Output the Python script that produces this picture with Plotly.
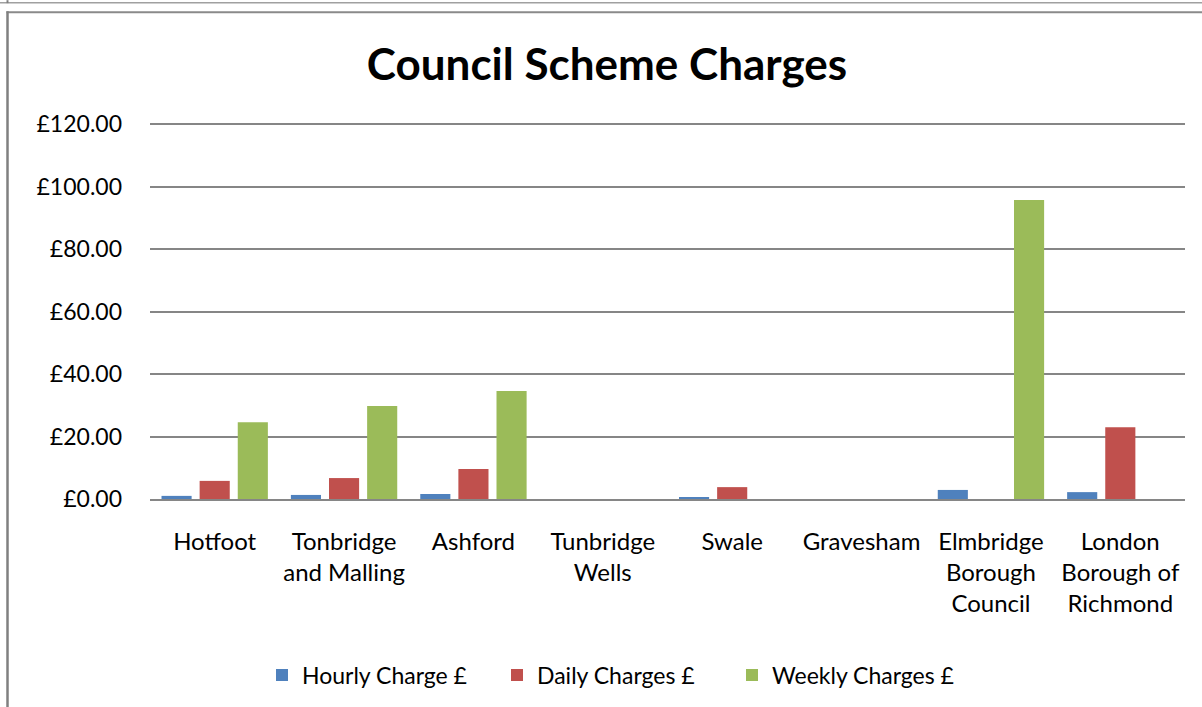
import plotly.graph_objects as go

categories = ["Hotfoot", "Tonbridge<br>and Malling", "Ashford", "Tunbridge<br>Wells", "Swale",
              "Gravesham", "Elmbridge<br>Borough<br>Council", "London<br>Borough of<br>Richmond"]
hourly = [1.00, 1.30, 1.60, None, 0.60, None, 2.90, 2.20]
daily = [5.80, 6.70, 9.60, None, 3.80, None, None, 23.00]
weekly = [24.60, 29.80, 34.60, None, None, None, 95.70, None]
series_names = ["Hourly Charge £", "Daily Charges £", "Weekly Charges £"]
colors = ["#4F81BD", "#C0504D", "#9BBB59"]
y_ticks = [0, 20, 40, 60, 80, 100, 120]
y_tick_text = ["£0.00", "£20.00", "£40.00", "£60.00", "£80.00", "£100.00", "£120.00"]

W, H = 1202, 707
Y_TOP = 121.0
L, R, B = 150, 1185, 499
PX_PER_UNIT = 375 / 120.0
T = B - Y_TOP * PX_PER_UNIT

def px_x(p):
    return (p - L) / (R - L)

def px_y(p):
    return (B - p) / (B - T)

FONT = "Lato"
fig = go.Figure()
for name, vals, c in zip(series_names, [hourly, daily, weekly], colors):
    fig.add_trace(go.Bar(x=categories, y=vals, name=name, marker=dict(color=c, line=dict(width=0))))

gray = "#868686"
shapes = [
    dict(type="line", xref="paper", yref="paper", x0=px_x(0), x1=px_x(W), y0=px_y(2.5), y1=px_y(2.5),
         line=dict(color="#a0a0a0", width=1.5)),
    dict(type="line", xref="paper", yref="paper", x0=px_x(7.5), x1=px_x(7.5), y0=px_y(0), y1=px_y(3),
         line=dict(color="#808080", width=2)),
    dict(type="line", xref="paper", yref="paper", x0=px_x(6.5), x1=px_x(W + 5), y0=px_y(12), y1=px_y(12),
         line=dict(color="#8a8a8a", width=2)),
    dict(type="line", xref="paper", yref="paper", x0=px_x(7.5), x1=px_x(7.5), y0=px_y(11), y1=px_y(H + 5),
         line=dict(color="#808080", width=2.5)),
]

fig.update_layout(
    width=W, height=H,
    margin=dict(l=L, r=W - R, t=T, b=H - B, autoexpand=False),
    paper_bgcolor="white", plot_bgcolor="white",
    barmode="group", bargap=0.116, bargroupgap=0.21,
    title=dict(text="<b>Council Scheme Charges</b>", x=px_x(607), xref="paper", xanchor="center",
               y=1 - 65 / H, yanchor="middle", font=dict(family=FONT, size=44, color="black")),
    font=dict(family=FONT, color="black"),
    showlegend=True,
    legend=dict(orientation="h", x=px_x(262), xanchor="left", y=px_y(675), yanchor="middle",
                font=dict(family=FONT, size=23, color="black"), entrywidth=190, entrywidthmode="pixels",
                itemclick=False, traceorder="normal"),
    shapes=shapes,
)
fig.update_yaxes(range=[0, Y_TOP], tickvals=y_ticks, ticktext=y_tick_text, showgrid=True, gridcolor=gray,
                 gridwidth=1.5, zeroline=False, showline=False, ticks="", ticklabelstandoff=27,
                 tickfont=dict(family=FONT, size=23, color="black"))
fig.update_xaxes(showline=True, linecolor=gray, linewidth=1.5, ticks="", ticklabelstandoff=20,
                 tickfont=dict(family=FONT, size=24, color="black"), tickangle=0)

fig.write_html("out.html")
